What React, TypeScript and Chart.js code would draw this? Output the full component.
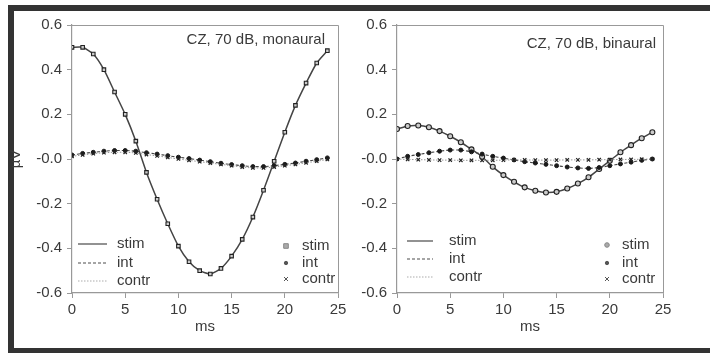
import React, { useEffect, useRef } from 'react';
import { Chart, registerables } from 'chart.js';
Chart.register(...registerables);

const timeMs = [0, 1, 2, 3, 4, 5, 6, 7, 8, 9, 10, 11, 12, 13, 14, 15, 16, 17, 18, 19, 20, 21, 22, 23, 24];

const monoStim = [0.5, 0.5, 0.47, 0.4, 0.3, 0.2, 0.08, -0.06, -0.18, -0.29, -0.39, -0.46, -0.5, -0.515, -0.49, -0.435, -0.36, -0.26, -0.14, -0.01, 0.12, 0.24, 0.34, 0.43, 0.485];
const monoInt = [0.018, 0.025, 0.03, 0.035, 0.038, 0.038, 0.035, 0.028, 0.022, 0.015, 0.008, 0.002, -0.005, -0.012, -0.019, -0.025, -0.03, -0.034, -0.034, -0.03, -0.024, -0.018, -0.01, -0.003, 0.005];
const monoContr = [0.012, 0.018, 0.024, 0.028, 0.03, 0.03, 0.027, 0.02, 0.014, 0.007, 0.0, -0.006, -0.012, -0.018, -0.024, -0.03, -0.036, -0.04, -0.04, -0.036, -0.03, -0.024, -0.017, -0.01, -0.002];

const binStim = [0.134, 0.148, 0.15, 0.142, 0.125, 0.102, 0.075, 0.043, 0.01, -0.035, -0.072, -0.102, -0.127, -0.142, -0.15, -0.147, -0.132, -0.11, -0.082, -0.045, -0.008, 0.03, 0.062, 0.093, 0.12];
const binInt = [0.0, 0.012, 0.02, 0.028, 0.035, 0.04, 0.04, 0.032, 0.022, 0.012, 0.004, -0.004, -0.012, -0.018, -0.024, -0.03, -0.036, -0.04, -0.042, -0.038, -0.03, -0.022, -0.014, -0.006, 0.0];
const binContr = [0.0, -0.002, -0.003, -0.004, -0.005, -0.005, -0.006, -0.006, -0.006, -0.006, -0.005, -0.004, -0.004, -0.005, -0.005, -0.005, -0.004, -0.004, -0.004, -0.003, -0.003, -0.002, -0.002, -0.001, 0.0];

const xTickValues = [0, 5, 10, 15, 20, 25];
const yTickValues = [-0.6, -0.4, -0.2, 0, 0.2, 0.4, 0.6];
const yTickLabels = ['-0.6', '-0.4', '-0.2', '-0.0', '0.2', '0.4', '0.6'];
const seriesNames = ['stim', 'int', 'contr'];
const panelTitles = ['CZ, 70 dB, monaural', 'CZ, 70 dB, binaural'];
const xTitle = 'ms';
const yTitle = 'µV';

const FONT = '"Liberation Sans", Arial, Helvetica, sans-serif';
const TEXT = '#3a3a3a';
const AXIS = '#999';

const toPts = (ys: number[]) => timeMs.map((t, i) => ({ x: t, y: ys[i] }));

function drawMarker(ctx: CanvasRenderingContext2D, shape: string, x: number, y: number, r: number, fill: string, stroke: string) {
  ctx.save();
  ctx.setLineDash([]);
  ctx.lineWidth = 1;
  ctx.fillStyle = fill;
  ctx.strokeStyle = stroke;
  ctx.beginPath();
  if (shape === 'rect') {
    ctx.rect(x - r, y - r, 2 * r, 2 * r);
    ctx.fill();
    ctx.stroke();
  } else if (shape === 'circle') {
    ctx.arc(x, y, r, 0, Math.PI * 2);
    ctx.fill();
    ctx.stroke();
  } else {
    ctx.moveTo(x - r, y - r);
    ctx.lineTo(x + r, y + r);
    ctx.moveTo(x + r, y - r);
    ctx.lineTo(x - r, y + r);
    ctx.stroke();
  }
  ctx.restore();
}

function decorPlugin(o: any) {
  return {
    id: 'panelDecor',
    afterDatasetsDraw(chart: any) {
      const { ctx, chartArea: a } = chart;
      ctx.save();
      ctx.strokeStyle = AXIS;
      ctx.lineWidth = 1;
      ctx.beginPath();
      ctx.moveTo(a.left, Math.round(a.top) + 0.5);
      ctx.lineTo(Math.round(a.right) + 0.5, Math.round(a.top) + 0.5);
      ctx.lineTo(Math.round(a.right) + 0.5, a.bottom);
      ctx.stroke();

      ctx.font = `15px ${FONT}`;
      ctx.fillStyle = TEXT;
      ctx.textAlign = 'right';
      ctx.textBaseline = 'middle';
      ctx.fillText(o.title, a.right - o.titleDx, a.top + o.titleDy);

      const lineStyles = [
        { color: '#777', dash: [], width: 1.6 },
        { color: '#888', dash: [3, 2], width: 1.3 },
        { color: '#c8c8c8', dash: [1.5, 1.5], width: 1.3 },
      ];
      ctx.textAlign = 'left';
      for (let i = 0; i < 3; i++) {
        const y = a.bottom - o.lineRows[i];
        const s = lineStyles[i];
        ctx.save();
        ctx.strokeStyle = s.color;
        ctx.lineWidth = s.width;
        ctx.setLineDash(s.dash);
        ctx.beginPath();
        ctx.moveTo(a.left + o.lx0, y);
        ctx.lineTo(a.left + o.lx1, y);
        ctx.stroke();
        ctx.restore();
        ctx.fillStyle = TEXT;
        ctx.fillText(seriesNames[i], a.left + o.ltx, y);
      }
      const shapes = [o.stimShape, 'circle', 'cross'];
      const fills = ['#aaa', '#555', '#555'];
      const strokes = ['#888', '#555', '#555'];
      const radii = [2.3, 1.7, 2];
      for (let i = 0; i < 3; i++) {
        const y = a.bottom - o.markRows[i];
        drawMarker(ctx, shapes[i], a.right - o.mx, y, radii[i], fills[i], strokes[i]);
        ctx.fillStyle = TEXT;
        ctx.fillText(seriesNames[i], a.right - o.mtx, y);
      }
      ctx.restore();
    },
  };
}

function makeChart(canvas: HTMLCanvasElement, p: any) {
  const font = { family: FONT, size: 15 };
  return new Chart(canvas, {
    type: 'line',
    data: {
      datasets: [
        {
          label: seriesNames[2],
          data: toPts(p.contr),
          borderColor: '#999',
          borderWidth: 1,
          borderDash: [1.5, 1.5],
          pointStyle: 'crossRot',
          pointRadius: 2.4,
          pointBorderColor: '#222',
          pointBorderWidth: 1.2,
          tension: 0.2,
        },
        {
          label: seriesNames[1],
          data: toPts(p.int),
          borderColor: '#444',
          borderWidth: 1.1,
          borderDash: [3, 2],
          pointStyle: 'circle',
          pointRadius: 2,
          pointBackgroundColor: '#1a1a1a',
          pointBorderColor: '#1a1a1a',
          pointBorderWidth: 1,
          tension: 0.2,
        },
        {
          label: seriesNames[0],
          data: toPts(p.stim),
          borderColor: '#444',
          borderWidth: 1.5,
          pointStyle: p.stimShape,
          pointRadius: 2.5,
          pointBackgroundColor: '#ccc',
          pointBorderColor: '#222',
          pointBorderWidth: 1.1,
          tension: 0.2,
        },
      ],
    },
    options: {
      responsive: false,
      animation: false,
      devicePixelRatio: 1,
      layout: { padding: { left: 0, right: p.padRight, top: 14, bottom: 0 } },
      plugins: { legend: { display: false }, tooltip: { enabled: false } },
      scales: {
        x: {
          type: 'linear',
          min: 0,
          max: 25,
          afterBuildTicks: (s: any) => {
            s.ticks = xTickValues.map((v) => ({ value: v }));
          },
          afterFit: (s: any) => {
            s.height = 54;
          },
          ticks: {
            autoSkip: false,
            maxRotation: 0,
            padding: 3,
            color: TEXT,
            font,
            callback: (_v: any, i: number) => String(xTickValues[i]),
          },
          grid: { drawOnChartArea: false, drawTicks: true, tickLength: 5, color: AXIS },
          border: { color: AXIS, width: 1.2 },
          title: { display: true, text: xTitle, color: TEXT, font, padding: { top: 0, bottom: 11 } },
        },
        y: {
          type: 'linear',
          min: -0.6,
          max: 0.6,
          afterBuildTicks: (s: any) => {
            s.ticks = yTickValues.map((v) => ({ value: v }));
          },
          afterFit: (s: any) => {
            s.width = p.yWidth;
          },
          ticks: {
            autoSkip: false,
            padding: 5,
            color: TEXT,
            font,
            callback: (_v: any, i: number) => yTickLabels[i],
          },
          grid: { drawOnChartArea: false, drawTicks: true, tickLength: 5, color: AXIS },
          border: { color: AXIS, width: 1.2 },
          title: { display: p.showYTitle, text: yTitle, color: TEXT, font, padding: { top: -1, bottom: 0 } },
        },
      },
    },
    plugins: [decorPlugin(p.decor)],
  } as any);
}

export default function App() {
  const leftRef = useRef<HTMLCanvasElement>(null);
  const rightRef = useRef<HTMLCanvasElement>(null);

  useEffect(() => {
    const c1 = makeChart(leftRef.current!, {
      stim: monoStim,
      int: monoInt,
      contr: monoContr,
      stimShape: 'rect',
      yWidth: 64,
      padRight: 12,
      showYTitle: true,
      decor: {
        title: panelTitles[0],
        titleDx: 13,
        titleDy: 15,
        lineRows: [49, 30, 12],
        lx0: 6,
        lx1: 35,
        ltx: 45,
        markRows: [47, 30, 14],
        mx: 52,
        mtx: 36,
        stimShape: 'rect',
      },
    });
    const c2 = makeChart(rightRef.current!, {
      stim: binStim,
      int: binInt,
      contr: binContr,
      stimShape: 'circle',
      yWidth: 47,
      padRight: 47,
      showYTitle: false,
      decor: {
        title: panelTitles[1],
        titleDx: 7,
        titleDy: 19,
        lineRows: [52, 34, 16],
        lx0: 10,
        lx1: 36,
        ltx: 52,
        markRows: [48, 30, 14],
        mx: 56,
        mtx: 41,
        stimShape: 'circle',
      },
    });
    return () => {
      c1.destroy();
      c2.destroy();
    };
  }, []);

  return (
    <div style={{ position: 'absolute', left: 0, top: 0, width: 710, height: 353, background: '#fff', overflow: 'hidden' }}>
      <div style={{ position: 'absolute', left: 8, top: 5, width: 702, height: 6, background: '#333' }} />
      <div style={{ position: 'absolute', left: 8, top: 5, width: 6, height: 348, background: '#333' }} />
      <div style={{ position: 'absolute', left: 8, top: 348, width: 702, height: 5, background: '#333' }} />
      <canvas ref={leftRef} width={342} height={336} style={{ position: 'absolute', left: 8, top: 11, width: 342, height: 336 }} />
      <canvas ref={rightRef} width={360} height={336} style={{ position: 'absolute', left: 350, top: 11, width: 360, height: 336 }} />
    </div>
  );
}
